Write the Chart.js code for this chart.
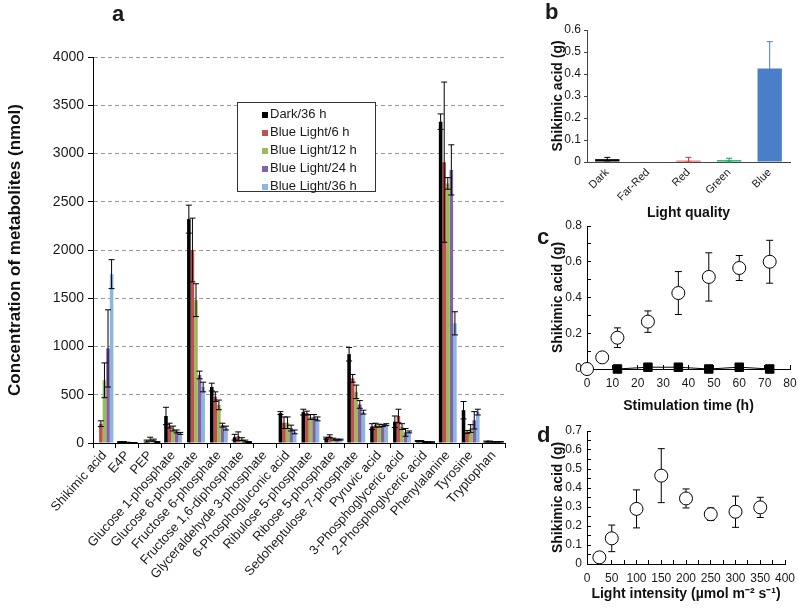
<!DOCTYPE html>
<html>
<head>
<meta charset="utf-8">
<script src="https://cdn.jsdelivr.net/npm/chart.js@4.4.0/dist/chart.umd.min.js"></script>
<style>
  body { margin: 0; background: #fff; width: 798px; height: 609px; position: relative; overflow: hidden;
         font-family: 'Liberation Sans', Arial, sans-serif; color: #1a1a1a; }
  canvas { position: absolute; }
  .tag { position: absolute; font-weight: bold; font-size: 22px; line-height: 22px; }
  #legend { position: absolute; left: 237px; top: 102px; width: 139px; height: 90px; border: 1px solid #333;
            background: #fff; font-size: 13px; box-sizing: border-box; padding: 2px 0 0 24px; }
  #legend div { height: 18px; line-height: 18px; white-space: nowrap; }
  #legend span { display: inline-block; width: 6px; height: 6px; margin-right: 2px; vertical-align: 0px; }
</style>
</head>
<body>
<canvas id="chartA" width="540" height="609" style="left:0;top:0"></canvas>
<canvas id="chartB" width="278" height="222" style="left:520px;top:0"></canvas>
<canvas id="chartC" width="278" height="210" style="left:520px;top:205px"></canvas>
<canvas id="chartD" width="278" height="204" style="left:520px;top:405px"></canvas>
<div class="tag" style="left:112px;top:3px">a</div>
<div class="tag" style="left:545px;top:1px">b</div>
<div class="tag" style="left:537px;top:226px">c</div>
<div class="tag" style="left:537px;top:424px">d</div>
<div id="legend"></div>
<script>
// --- панель a: метаболиты (нмоль)
const metabolites = ['Shikimic acid', 'E4P', 'PEP', 'Glucose 1-phosphate', 'Glucose 6-phosphate',
  'Fructose 6-phosphate', 'Fructose 1,6-diphosphate', 'Glyceraldehyde 3-phosphate', '6-Phosphogluconic acid',
  'Ribulose 5-phosphate', 'Ribose 5-phosphate', 'Sedoheptulose 7-phosphate', 'Pyruvic acid',
  '3-Phosphoglyceric acid', '2-Phosphoglyceric acid', 'Phenylalanine', 'Tyrosine', 'Tryptophan'];
const seriesNames = ['Dark/36 h', 'Blue Light/6 h', 'Blue Light/12 h', 'Blue Light/24 h', 'Blue Light/36 h'];
const seriesColors = ['#000000', '#c0504d', '#9bbb59', '#8064a2', '#8db4e6'];

const dark36 = [0, 10, 0, 280, 2320, 580, 60, 0, 310, 320, 50, 920, 170, 220, 20, 3330, 340, 15];
const blue6  = [200, 10, 20, 180, 2000, 480, 70, 0, 210, 310, 70, 670, 185, 280, 20, 2910, 115, 15];
const blue12 = [650, 5, 40, 150, 1480, 395, 40, 0, 210, 270, 40, 530, 180, 170, 10, 2690, 150, 12];
const blue24 = [980, 3, 30, 120, 705, 185, 20, 0, 155, 270, 35, 400, 180, 110, 10, 2830, 235, 12];
const blue36 = [1750, 3, 10, 100, 580, 155, 10, 0, 115, 250, 35, 320, 190, 115, 10, 1240, 320, 12];

const dark36Err = [0, 5, 0, 90, 145, 40, 30, 0, 15, 30, 10, 70, 30, 60, 5, 80, 90, 5];
const blue6Err  = [30, 5, 10, 25, 330, 50, 45, 0, 60, 20, 15, 40, 20, 70, 5, 830, 15, 5];
const blue12Err = [180, 3, 20, 25, 170, 50, 15, 0, 60, 25, 10, 70, 15, 30, 5, 60, 40, 3];
const blue24Err = [400, 2, 10, 15, 40, 20, 10, 0, 30, 25, 5, 40, 10, 40, 3, 260, 90, 3];
const blue36Err = [150, 2, 5, 10, 50, 20, 5, 0, 20, 20, 5, 20, 10, 10, 3, 120, 30, 3];

// --- панель b: качество света
const lightQuality = ['Dark', 'Far-Red', 'Red', 'Green', 'Blue'];
const shikimicByLight = [0.013, 0, 0.006, 0.008, 0.425];
const shikimicByLightErr = [0.008, 0, 0.015, 0.009, 0.122];
const lightColors = ['#000000', '#000000', '#e0303e', '#00a650', '#4a7ec9'];

// --- панель c: время стимуляции
const stimTime = [0, 6, 12, 24, 36, 48, 60, 72];
const shikimicBlue = [0, 0.065, 0.175, 0.265, 0.425, 0.515, 0.565, 0.6];
const shikimicBlueErr = [0, 0.012, 0.055, 0.06, 0.12, 0.135, 0.07, 0.12];
const darkTime = [12, 24, 36, 48, 60, 72];
const shikimicDark = [0, 0.01, 0.01, 0, 0.01, 0];

// --- панель d: интенсивность света
const intensity = [25, 50, 100, 150, 200, 250, 300, 350];
const shikimicInt = [0.035, 0.135, 0.29, 0.465, 0.345, 0.262, 0.275, 0.298];
const shikimicIntErr = [0.02, 0.07, 0.1, 0.142, 0.05, 0.033, 0.082, 0.053];

Chart.defaults.font.family = "'Liberation Sans', Arial, sans-serif";
Chart.defaults.color = '#1a1a1a';
Chart.defaults.animation = false;
Chart.defaults.responsive = false;
Chart.defaults.plugins.legend.display = false;
Chart.defaults.plugins.tooltip.enabled = false;

// планки погрешностей
function drawErrors(chart, opts) {
  const ctx = chart.ctx, ys = chart.scales.y;
  chart.data.datasets.forEach((ds, i) => {
    if (!ds.errors) return;
    chart.getDatasetMeta(i).data.forEach((el, j) => {
      const e = ds.errors[j];
      if (!e) return;
      const v = ds.data[j];
      const val = typeof v === 'object' ? v.y : v;
      const top = ys.getPixelForValue(val + e);
      const bot = ys.getPixelForValue(Math.max(val - e, ys.min));
      const c = opts.cap / 2;
      ctx.save();
      ctx.strokeStyle = Array.isArray(ds.errorColor) ? ds.errorColor[j] : (ds.errorColor || '#000');
      ctx.lineWidth = 1;
      ctx.beginPath();
      ctx.moveTo(el.x, top); ctx.lineTo(el.x, bot);
      ctx.moveTo(el.x - c, top); ctx.lineTo(el.x + c, top);
      ctx.moveTo(el.x - c, bot); ctx.lineTo(el.x + c, bot);
      ctx.stroke();
      ctx.restore();
    });
  });
}
const errorBars = {
  id: 'errorBars',
  defaults: { cap: 6, behind: false },
  beforeDatasetsDraw(chart, args, opts) { if (opts.behind) drawErrors(chart, opts); },
  afterDatasetsDraw(chart, args, opts) { if (!opts.behind) drawErrors(chart, opts); }
};

const axisTitle = (text, size, pad) => ({ display: true, text, font: { size, weight: 'bold' }, color: '#111', padding: pad || 0 });
const seriesData = [dark36, blue6, blue12, blue24, blue36];
const seriesErr = [dark36Err, blue6Err, blue12Err, blue24Err, blue36Err];

new Chart(document.getElementById('chartA'), {
  type: 'bar',
  data: {
    labels: metabolites,
    datasets: seriesNames.map((name, i) => ({
      label: name, data: seriesData[i], errors: seriesErr[i],
      backgroundColor: seriesColors[i], categoryPercentage: 0.78, barPercentage: 1
    }))
  },
  options: {
    layout: { padding: { top: 57, right: 35 } },
    plugins: { errorBars: { cap: 6 } },
    scales: {
      x: {
        grid: { offset: true, drawOnChartArea: false, tickLength: 5, tickColor: '#000' },
        border: { color: '#000' },
        ticks: { minRotation: 48, maxRotation: 48, autoSkip: false, font: { size: 13 }, padding: 0 },
        afterFit: s => { s.height = 166; }
      },
      y: {
        min: 0, max: 4000,
        ticks: { stepSize: 500, font: { size: 14 }, padding: 4, callback: v => String(v) },
        grid: { color: '#9a9a9a', tickColor: '#000', tickLength: 5 },
        border: { color: '#000', dash: [4, 3] },
        title: axisTitle('Concentration of metabolites (nmol)', 17, { top: 5, bottom: 0 }),
        afterFit: s => { s.width = 93; }
      }
    }
  },
  plugins: [errorBars]
});

// легенда панели a
document.getElementById('legend').innerHTML = seriesNames
  .map((n, i) => `<div><span style="background:${seriesColors[i]}"></span>${n}</div>`).join('');

const yTitlePad = { top: 30, bottom: 0 };
// засечки внутрь графика (отрицательная длина)
const innerY = { drawOnChartArea: false, tickLength: -4, tickColor: '#000' };
const innerX = { drawOnChartArea: false, tickLength: -4, tickColor: '#000' };
// фиксированная высота оси x без лишних боковых отступов
const fixX = h => s => { s.height = h; s.paddingLeft = 0; s.paddingRight = 0; };

new Chart(document.getElementById('chartB'), {
  type: 'bar',
  data: {
    labels: lightQuality,
    datasets: [{
      data: shikimicByLight, errors: shikimicByLightErr, errorColor: lightColors,
      backgroundColor: lightColors, categoryPercentage: 1, barPercentage: 0.6
    }]
  },
  options: {
    layout: { padding: { top: 30, right: 8 } },
    plugins: { errorBars: { cap: 6 } },
    scales: {
      x: {
        grid: { drawOnChartArea: false, drawTicks: false },
        border: { color: '#444' },
        ticks: { minRotation: 45, maxRotation: 45, autoSkip: false, font: { size: 11 }, padding: 4 },
        title: axisTitle('Light quality', 14),
        afterFit: s => { s.height = 60; }
      },
      y: {
        min: 0, max: 0.6,
        ticks: { stepSize: 0.1, font: { size: 12 }, padding: 3 },
        grid: { drawOnChartArea: false, tickLength: 3, tickColor: '#444' },
        border: { color: '#444' },
        title: axisTitle('Shikimic acid (g)', 14, yTitlePad),
        afterFit: s => { s.width = 67; }
      }
    }
  },
  plugins: [errorBars]
});

const fmt1 = v => (v === 0 ? '0' : v.toFixed(1));

new Chart(document.getElementById('chartC'), {
  type: 'scatter',
  data: {
    datasets: [
      {
        data: darkTime.map((t, i) => ({ x: t, y: shikimicDark[i] })),
        showLine: true, borderColor: '#000', borderWidth: 1,
        pointStyle: 'rect', pointRadius: 6, backgroundColor: '#000', pointBorderColor: '#000', clip: false
      },
      {
        data: stimTime.map((t, i) => ({ x: t, y: shikimicBlue[i] })), errors: shikimicBlueErr,
        pointStyle: 'circle', pointRadius: 6.5, backgroundColor: '#fff', borderColor: '#000', borderWidth: 1, clip: false
      }
    ]
  },
  options: {
    layout: { padding: { top: 21, right: 8 } },
    plugins: { errorBars: { cap: 7, behind: true } },
    scales: {
      x: {
        min: 0, max: 80,
        ticks: { stepSize: 10, font: { size: 12 }, padding: 11 },
        grid: innerX,
        border: { color: '#000' },
        title: axisTitle('Stimulation time (h)', 14),
        afterFit: fixX(46)
      },
      y: {
        min: 0, max: 0.8,
        ticks: { stepSize: 0.1, font: { size: 12 }, padding: 9, callback: (v, i) => (i % 2 === 0 ? fmt1(v) : '') },
        grid: innerY,
        border: { color: '#000' },
        title: axisTitle('Shikimic acid (g)', 14, yTitlePad),
        afterFit: s => { s.width = 67; }
      }
    }
  },
  plugins: [errorBars]
});

new Chart(document.getElementById('chartD'), {
  type: 'scatter',
  data: {
    datasets: [{
      data: intensity.map((x, i) => ({ x, y: shikimicInt[i] })), errors: shikimicIntErr,
      pointStyle: 'circle', pointRadius: 6.5, backgroundColor: '#fff', borderColor: '#000', borderWidth: 1, clip: false
    }]
  },
  options: {
    layout: { padding: { top: 26, right: 13 } },
    plugins: { errorBars: { cap: 7, behind: true } },
    scales: {
      x: {
        min: 0, max: 400,
        ticks: { stepSize: 25, autoSkip: false, minRotation: 0, maxRotation: 0, font: { size: 12 }, padding: 11,
                 callback: v => (v % 50 === 0 ? String(v) : '') },
        grid: innerX,
        border: { color: '#000' },
        title: axisTitle('Light intensity (\u00b5mol m\u207b\u00b2 s\u207b\u00b9)', 14, { top: 0, bottom: 6 }),
        afterFit: fixX(45)
      },
      y: {
        min: 0, max: 0.7,
        ticks: { stepSize: 0.05, autoSkip: false, font: { size: 12 }, padding: 9, callback: (v, i) => (i % 2 === 0 ? fmt1(v) : '') },
        grid: innerY,
        border: { color: '#000' },
        title: axisTitle('Shikimic acid (g)', 14, yTitlePad),
        afterFit: s => { s.width = 67; }
      }
    }
  },
  plugins: [errorBars]
});
</script>
</body>
</html>
